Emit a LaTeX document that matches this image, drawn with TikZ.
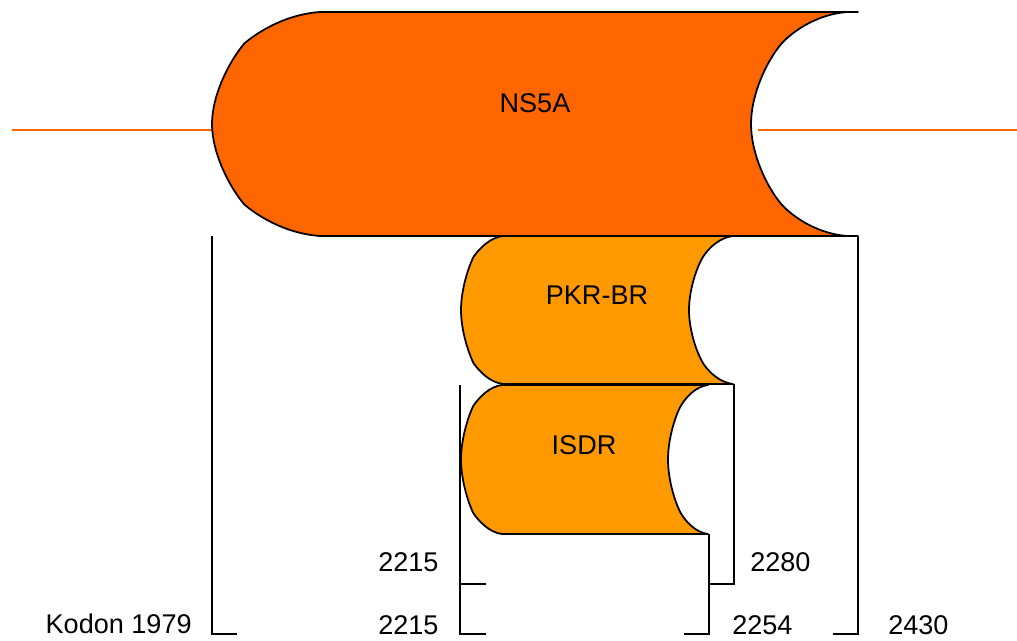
\documentclass[tikz,border=0pt]{standalone}
\usepackage{fontspec}
\setmainfont{Liberation Sans}
\usepackage{tikz}
\usetikzlibrary{calc}

\definecolor{nsorange}{HTML}{FF6600}
\definecolor{pkrorange}{HTML}{FF9900}

% domain shape: #1 fill, #2 left x, #3 right x, #4 right line end, #5 top y, #6 bottom y, #7 bulge, #8 hollow
\newcommand{\domainshape}[8]{%
  \filldraw[outline, fill=#1]
    (#2,#5) -- (#4,#5) -- (#3,#5)
    .. controls ({#3-0.3*#8},{#5+0.01*(#6-#5)}) and ({#3-0.55*#8},{#5+0.08*(#6-#5)}) .. ({#3-0.68*#8},{#5+0.14*(#6-#5)})
    .. controls ({#3-0.84*#8},{#5+0.22*(#6-#5)}) and ({#3-#8},{#5+0.37*(#6-#5)}) .. ({#3-#8},{(#5+#6)/2})
    .. controls ({#3-#8},{#6-0.37*(#6-#5)}) and ({#3-0.84*#8},{#6-0.22*(#6-#5)}) .. ({#3-0.68*#8},{#6-0.14*(#6-#5)})
    .. controls ({#3-0.55*#8},{#6-0.08*(#6-#5)}) and ({#3-0.3*#8},{#6-0.01*(#6-#5)}) .. (#3,#6)
    -- (#4,#6) -- (#2,#6)
    .. controls ({#2-0.3*#7},{#6-0.01*(#6-#5)}) and ({#2-0.55*#7},{#6-0.08*(#6-#5)}) .. ({#2-0.7*#7},{#6-0.14*(#6-#5)})
    .. controls ({#2-0.84*#7},{#6-0.22*(#6-#5)}) and ({#2-#7},{#6-0.37*(#6-#5)}) .. ({#2-#7},{(#5+#6)/2})
    .. controls ({#2-#7},{#5+0.37*(#6-#5)}) and ({#2-0.84*#7},{#5+0.22*(#6-#5)}) .. ({#2-0.7*#7},{#5+0.14*(#6-#5)})
    .. controls ({#2-0.55*#7},{#5+0.08*(#6-#5)}) and ({#2-0.3*#7},{#5+0.01*(#6-#5)}) .. (#2,#5) -- cycle;%
}

\begin{document}
\begin{tikzpicture}[x=0.02cm, y=-0.02cm,
  outline/.style={draw=black, line width=1pt, line join=round},
  bracketline/.style={draw=black, line width=1pt},
  proteinline/.style={draw=nsorange, line width=1pt},
  domtext/.style={inner sep=0pt, font=\fontsize{15.4}{18}\selectfont}]
  % 1017 x 641 px, 1 px = 0.02 cm
  \useasboundingbox (0,0) rectangle (1017,641);

  % polyprotein line
  \draw[proteinline] (12,130) -- (212,130);
  \draw[proteinline] (758,130) -- (1017,130);

  % domains
  \domainshape{nsorange}{320}{847}{858}{12}{236}{108}{96}
  \domainshape{pkrorange}{503}{733}{733}{236}{384}{42}{44}
  \domainshape{pkrorange}{502}{708}{708}{385}{534}{41}{40}

  \node[domtext] (ns5a) at (535,103) {NS5A};
  \node[domtext] (pkrbr) at (597,295) {PKR-BR};
  \node[domtext] (isdr) at (584,445) {ISDR};

  % brackets
  \draw[bracketline] (212,236) -- (212,634) -- (237,634);
  \draw[bracketline] (858,236) -- (858,634) -- (833,634);
  \draw[bracketline] (460,385) -- (460,634) -- (486,634);
  \draw[bracketline] (460,584) -- (486,584);
  \draw[bracketline] (734,384) -- (734,584) -- (709,584);
  \draw[bracketline] (709,534) -- (709,634) -- (684,634);

  % codon numbers
  \node[domtext, anchor=east] (kodon) at (192,624) {Kodon 1979};
  \node[domtext, anchor=west] (isdrstart) at (378,562) {2215};
  \node[domtext, anchor=west] (pkrstart) at (378,625) {2215};
  \node[domtext, anchor=west] (pkrend) at (750,562) {2280};
  \node[domtext, anchor=west] (isdrend) at (732,625) {2254};
  \node[domtext, anchor=west] (nsend) at (888,625) {2430};
\end{tikzpicture}
\end{document}
